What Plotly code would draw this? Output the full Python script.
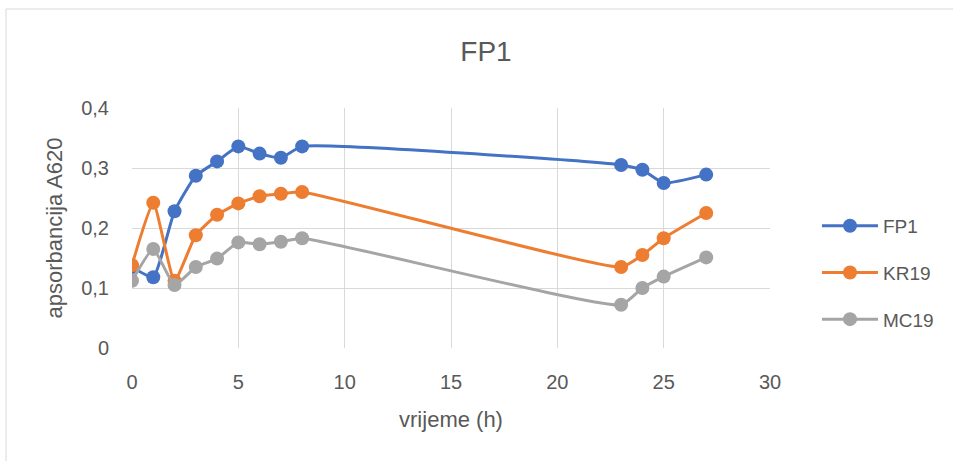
import plotly.graph_objects as go

hours = [0, 1, 2, 3, 4, 5, 6, 7, 8, 23, 24, 25, 27]
fp1 = [0.135, 0.118, 0.228, 0.287, 0.311, 0.336, 0.324, 0.317, 0.336, 0.305, 0.297, 0.275, 0.289]
kr19 = [0.138, 0.242, 0.112, 0.188, 0.222, 0.241, 0.253, 0.257, 0.260, 0.135, 0.155, 0.183, 0.225]
mc19 = [0.112, 0.165, 0.105, 0.135, 0.149, 0.176, 0.173, 0.177, 0.183, 0.072, 0.100, 0.119, 0.151]

series_names = ["FP1", "KR19", "MC19"]
series_colors = ["#4472C4", "#ED7D31", "#A5A5A5"]
y_ticks = [0, 0.1, 0.2, 0.3, 0.4]
y_ticktext = ["0", "0,1", "0,2", "0,3", "0,4"]
x_ticks = [0, 5, 10, 15, 20, 25, 30]

font = "Liberation Sans, Arial, sans-serif"
txt = "#595959"
fig = go.Figure()
for name, vals, col in zip(series_names, [fp1, kr19, mc19], series_colors):
    fig.add_trace(go.Scatter(
        x=hours, y=vals, name=name, mode="lines+markers",
        line=dict(color=col, width=3, shape="spline", smoothing=0.45),
        marker=dict(color=col, size=14),
        legendgroup=name,
    ))

fig.update_layout(
    width=953, height=461,
    margin=dict(l=132, r=183, t=108, b=113),
    paper_bgcolor="white", plot_bgcolor="white",
    font=dict(family=font, color=txt, size=20),
    title=dict(text="FP1", x=0.51, xref="container", xanchor="center", y=0.889, yanchor="middle",
               font=dict(size=28, color=txt, family=font)),
    legend=dict(x=(817 - 132) / 638, y=0.313, xanchor="left", yanchor="middle", traceorder="grouped",
                tracegroupgap=19, font=dict(size=19, color=txt), itemwidth=56),
    xaxis=dict(range=[0, 30], tickvals=x_ticks, showgrid=True, gridcolor="#D9D9D9", gridwidth=1,
               zeroline=False, showline=False, ticks="outside", ticklen=16, tickcolor="rgba(0,0,0,0)",
               title=dict(text="vrijeme (h)", font=dict(size=22, color=txt), standoff=19),
               tickfont=dict(size=20)),
    yaxis=dict(range=[0, 0.4], tickvals=y_ticks, ticktext=y_ticktext, showgrid=True,
               gridcolor="#D9D9D9", gridwidth=1, zeroline=False, showline=False,
               ticks="outside", ticklen=18, tickcolor="rgba(0,0,0,0)",
               title=dict(text="apsorbancija A620", font=dict(size=22, color=txt), standoff=12),
               tickfont=dict(size=20)),
    showlegend=True,
)
fig.add_shape(type="rect", xref="paper", yref="paper",
              x0=(6 - 132) / 638, x1=(960 - 132) / 638,
              y0=(348 - 470) / 240, y1=(348 - 9) / 240,
              line=dict(color="#D9D9D9", width=1), fillcolor="rgba(0,0,0,0)", layer="below")
fig.write_html("out.html", config={"displayModeBar": False},
               post_script="document.body.style.margin='0';")
